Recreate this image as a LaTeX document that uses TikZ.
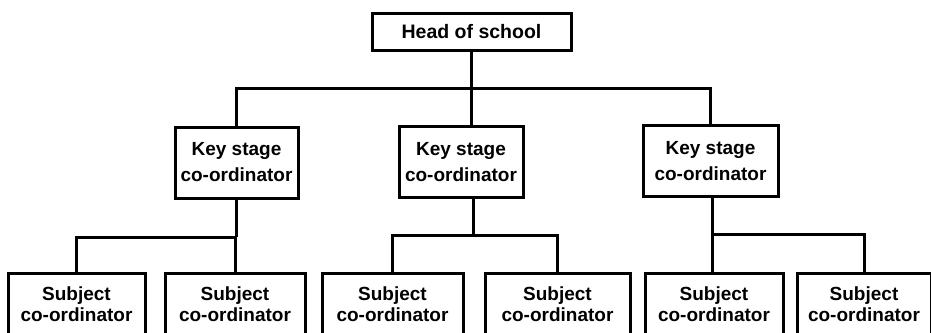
\documentclass[tikz,border=0pt]{standalone}
\usepackage{fontspec}
\newfontfamily\lblfont{Liberation Sans}
\begin{document}
\begin{tikzpicture}[x=1pt,y=-1pt,
  box/.style={draw, line width=3pt, align=center, inner sep=0pt},
  headbox/.style={box, font=\lblfont\bfseries\fontsize{19.5}{22}\selectfont, minimum height=37pt},
  ksbox/.style={box, font=\lblfont\bfseries\fontsize{19}{26}\selectfont, minimum height=71pt},
  subbox/.style={box, font=\lblfont\bfseries\fontsize{19}{21.5}\selectfont, minimum height=62pt},
  ln/.style={line width=3pt}]
\useasboundingbox (0,0) rectangle (931,332);
\clip (0,0) rectangle (931,332);
\node[headbox, minimum width=199pt] (head) at (471.5,31.5) {Head of school};
\node[ksbox, minimum width=123pt] (ks1) at (236.5,162.5) {Key stage\\co-ordinator};
\node[ksbox, minimum width=124pt] (ks2) at (461,162) {Key stage\\co-ordinator};
\node[ksbox, minimum width=135pt] (ks3) at (710.5,161) {Key stage\\co-ordinator};
\node[subbox, minimum width=137pt] (b1) at (76.5,304) {Subject\\co-ordinator};
\node[subbox, minimum width=140pt] (b2) at (235,304) {Subject\\co-ordinator};
\node[subbox, minimum width=141pt] (b3) at (392.5,304) {Subject\\co-ordinator};
\node[subbox, minimum width=145pt] (b4) at (557.5,304) {Subject\\co-ordinator};
\node[subbox, minimum width=138pt] (b5) at (714,304) {Subject\\co-ordinator};
\node[subbox, minimum width=134pt] (b6) at (864,304) {Subject\\co-ordinator};
\coordinate (top) at (471.5,88);
\coordinate (m1) at (236.5,237);
\coordinate (m2) at (473,235);
\coordinate (m3) at (712,234);
\draw[ln] (head.south) -- (top);
\draw[ln] (ks1.north) |- (top) -| (ks3.north);
\draw[ln] (top) -- (top |- ks2.north);
\draw[ln] (ks1.south) -- (m1);
\draw[ln] (b1.north) |- (m1) -| (b2.north);
\draw[ln] (m2 |- ks2.south) -- (m2);
\draw[ln] (b3.north) |- (m2) -| (b4.north);
\draw[ln] (m3 |- ks3.south) -- (m3 |- b5.north);
\draw[ln] (m3) -| (b6.north);
\end{tikzpicture}
\end{document}
